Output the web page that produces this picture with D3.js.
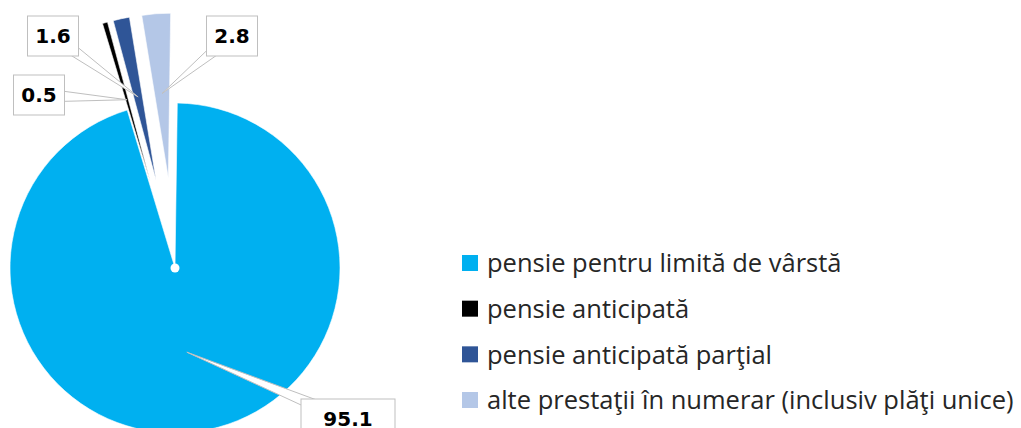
<!DOCTYPE html>
<html>
<head>
<meta charset="UTF-8">
<script src="https://d3js.org/d3.v7.min.js"></script>
<style>
body { margin: 0; background: #fff; font-family: 'Open Sans', sans-serif; }
</style>
</head>
<body>
<script>
// data
var categories = [
  "pensie pentru limită de vârstă",
  "pensie anticipată",
  "pensie anticipată parţial",
  "alte prestaţii în numerar (inclusiv plăţi unice)"
];
var values = [95.1, 0.5, 1.6, 2.8];
var colors = ["#00b0f0", "#000000", "#2f5597", "#b4c7e7"];
var exploded = [false, true, true, true];

// layout of the callout boxes: centre x, centre y, width
var labelBoxes = [[348, 419, 94], [39, 95, 51], [53, 36, 51], [232, 36, 51]];

var width = 1021, height = 428;
var cx = 175, cy = 268, R = 165, explode = 90;
var rot = 0.8 * Math.PI / 180;

var svg = d3.select("body").append("svg")
  .attr("width", width)
  .attr("height", height);

var pie = d3.pie().sort(null).startAngle(rot).endAngle(2 * Math.PI + rot);
var arcs = pie(values);
var arc = d3.arc().innerRadius(0).outerRadius(R);
var tipArc = d3.arc().innerRadius(0).outerRadius(170);

function shift(d, i) {
  if (!exploded[i]) return [0, 0];
  var a = (d.startAngle + d.endAngle) / 2;
  return [explode * Math.sin(a), -explode * Math.cos(a)];
}

var g = svg.append("g").attr("transform", "translate(" + cx + "," + cy + ")");

g.selectAll("path.slice")
  .data(arcs)
  .enter().append("path")
    .attr("class", "slice")
    .attr("transform", function(d, i) { var s = shift(d, i); return "translate(" + s[0] + "," + s[1] + ")"; })
    .attr("d", arc)
    .attr("fill", function(d, i) { return colors[i]; })
    .attr("stroke", "#fff")
    .attr("stroke-width", 0.6);

g.append("circle").attr("r", 4.5).attr("fill", "#fff");

// callout labels
var fmt = d3.format(".1f");
var boxH = 40;
arcs.forEach(function(d, i) {
  var s = shift(d, i);
  var c = tipArc.centroid(d);
  var tip = [cx + s[0] + c[0], cy + s[1] + c[1]];
  var b = labelBoxes[i];
  var dx = tip[0] - b[0], dy = tip[1] - b[1];
  var len = Math.sqrt(dx * dx + dy * dy);
  var px = -dy / len * 7, py = dx / len * 7;
  svg.append("path")
    .attr("d", "M" + (b[0] + px) + "," + (b[1] + py) + "L" + tip[0] + "," + tip[1] +
               "L" + (b[0] - px) + "," + (b[1] - py) + "Z")
    .attr("fill", "#fff")
    .attr("stroke", "#bfbfbf")
    .attr("stroke-width", 1);
  svg.append("rect")
    .attr("x", b[0] - b[2] / 2)
    .attr("y", b[1] - boxH / 2)
    .attr("width", b[2])
    .attr("height", boxH)
    .attr("fill", "#fff")
    .attr("stroke", "#bfbfbf")
    .attr("stroke-width", 1);
  svg.append("text")
    .attr("x", b[0])
    .attr("y", b[1])
    .attr("dy", "0.36em")
    .attr("text-anchor", "middle")
    .style("font-family", "'DejaVu Sans', sans-serif")
    .style("font-weight", "bold")
    .style("font-size", "20px")
    .style("fill", "#000")
    .text(fmt(d.data));
});

// legend
var y = d3.scalePoint().domain(categories).range([263, 400]);
var legend = svg.append("g");
legend.selectAll("rect")
  .data(categories)
  .enter().append("rect")
    .attr("x", 462)
    .attr("y", function(d) { return y(d) - 8; })
    .attr("width", 16)
    .attr("height", 16)
    .attr("fill", function(d, i) { return colors[i]; });
legend.selectAll("text")
  .data(categories)
  .enter().append("text")
    .attr("x", 487)
    .attr("y", function(d) { return y(d); })
    .attr("dy", "0.36em")
    .style("font-size", "25.5px")
    .style("fill", "#262626")
    .text(function(d) { return d; });
</script>
</body>
</html>
